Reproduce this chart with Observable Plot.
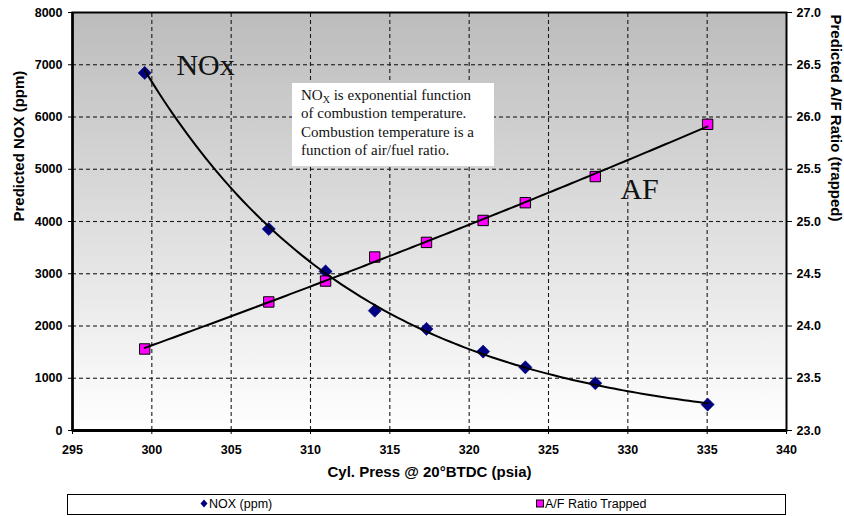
<!DOCTYPE html>
<html>
<head>
<meta charset="utf-8">
<script src="https://cdn.jsdelivr.net/npm/d3@7"></script>
<script src="https://cdn.jsdelivr.net/npm/@observablehq/plot@0.6"></script>
<style>
  body { margin: 0; background: #fff; }
  #chart { position: relative; width: 844px; height: 516px; font-family: "Liberation Sans", Arial, sans-serif; }
  #chart > svg { display: block; position: relative; z-index: 1; }
  .plot-bg {
    position: absolute; left: 72px; top: 12px; width: 714px; height: 418px; z-index: 0;
    background: linear-gradient(to bottom, #bcbcbc 0%, #ffffff 100%);
  }
  .note {
    position: absolute; left: 292px; top: 83px; width: 202px; height: 83px; box-sizing: border-box; z-index: 2;
    background: #fff; padding: 3px 0 0 9px;
    font-family: "Liberation Serif", "Times New Roman", serif; font-size: 15px; line-height: 18.4px; color: #111;
  }
  .note sub { font-size: 10px; vertical-align: -3px; line-height: 0; }
  .legend {
    position: absolute; left: 67px; top: 494px; width: 719px; height: 21px; box-sizing: border-box; z-index: 2;
    border: 1px solid #000; background: #fff; font-size: 12.5px; line-height: 15px; color: #000;
  }
  .legend .item { position: absolute; top: 2px; white-space: nowrap; }
  #chart .legend svg { display: inline-block; vertical-align: 0px; margin-right: 1px; }
</style>
</head>
<body>
<div id="chart"><div class="plot-bg"></div></div>
<script>
// Cylinder pressure at 20° BTDC (psia) and predicted values at each point
const pressure = [299.55, 307.37, 310.95, 314.05, 317.31, 320.88, 323.54, 327.95, 335.03];
const noxPpm   = [6844, 3856, 3045, 2294, 1944, 1510, 1210, 904, 497];
const afRatio  = [23.78, 24.23, 24.43, 24.66, 24.80, 25.01, 25.18, 25.43, 25.93];

// Axis ticks
const xTicks   = [295, 300, 305, 310, 315, 320, 325, 330, 335, 340];
const noxTicks = [0, 1000, 2000, 3000, 4000, 5000, 6000, 7000, 8000];
const afTicks  = [23.0, 23.5, 24.0, 24.5, 25.0, 25.5, 26.0, 26.5, 27.0];

// Secondary (A/F) axis is mapped onto the NOx scale: 23.0..27.0 -> 0..8000
const afMin = 23.0, afToNox = 2000;
const afY = v => (v - afMin) * afToNox;

const nox = pressure.map((p, i) => ({p, v: noxPpm[i]}));
const af  = pressure.map((p, i) => ({p, v: afY(afRatio[i])}));

// Exponential trend for NOx: ln(y) = a + b x
function expFit(xs, ys) {
  const ly = ys.map(Math.log);
  const mx = d3.mean(xs), my = d3.mean(ly);
  const b = d3.sum(xs, (x, i) => (x - mx) * (ly[i] - my)) / d3.sum(xs, x => (x - mx) ** 2);
  const a = my - b * mx;
  return x => Math.exp(a + b * x);
}
// Second-order polynomial trend for A/F
function polyFit2(xs, ys) {
  const x0 = d3.mean(xs);
  const u = xs.map(x => x - x0);
  const S = k => d3.sum(u, v => v ** k);
  const T = k => d3.sum(u, (v, i) => v ** k * ys[i]);
  const n = u.length;
  const M = [[n, S(1), S(2)], [S(1), S(2), S(3)], [S(2), S(3), S(4)]];
  const r = [T(0), T(1), T(2)];
  const det = m => m[0][0]*(m[1][1]*m[2][2]-m[1][2]*m[2][1]) - m[0][1]*(m[1][0]*m[2][2]-m[1][2]*m[2][0]) + m[0][2]*(m[1][0]*m[2][1]-m[1][1]*m[2][0]);
  const D = det(M);
  const c = [0, 1, 2].map(j => det(M.map((row, i) => row.map((v, k) => k === j ? r[i] : v))) / D);
  return x => c[0] + c[1] * (x - x0) + c[2] * (x - x0) ** 2;
}

const noxTrend = expFit(pressure, noxPpm);
const afTrend = polyFit2(pressure, afRatio);
const span = d3.range(0, 121).map(k => pressure[0] + (pressure[pressure.length - 1] - pressure[0]) * k / 120);
const noxCurve = span.map(p => ({p, v: noxTrend(p)}));
const afCurve = span.map(p => ({p, v: afY(afTrend(p))}));

// Dashed grid drawn as short rule segments (4px dash, 3px gap) along each inner tick
const frameW = 714, frameH = 418;
const xDom = [295, 340], yDom = [0, 8000];
const dashX = 4 * (xDom[1] - xDom[0]) / frameW, gapX = 3 * (xDom[1] - xDom[0]) / frameW;
const dashY = 4 * (yDom[1] - yDom[0]) / frameH, gapY = 3 * (yDom[1] - yDom[0]) / frameH;
const vDashes = xTicks.slice(1, -1).flatMap(x =>
  d3.range(yDom[0], yDom[1], dashY + gapY).map(y => ({x, y1: y, y2: Math.min(y + dashY, yDom[1])})));
const hDashes = noxTicks.slice(1, -1).flatMap(y =>
  d3.range(xDom[0], xDom[1], dashX + gapX).map(x => ({y, x1: x, x2: Math.min(x + dashX, xDom[1])})));

// Marker shapes
const diamond = { draw(ctx, size) { const r = Math.sqrt(size / Math.PI); ctx.moveTo(0, -r); ctx.lineTo(r, 0); ctx.lineTo(0, r); ctx.lineTo(-r, 0); ctx.closePath(); } };
const square  = { draw(ctx, size) { const r = Math.sqrt(size / Math.PI); ctx.rect(-r, -r, 2 * r, 2 * r); } };

const tickFont = {fontSize: 12.5, fontWeight: "bold"};
const serif = "'Liberation Serif', 'Times New Roman', serif";

const chart = Plot.plot({
  width: 844,
  height: 490,
  marginLeft: 72,
  marginRight: 58,
  marginTop: 12,
  marginBottom: 60,
  x: {domain: xDom},
  y: {domain: yDom},
  style: {fontFamily: "'Liberation Sans', Arial, sans-serif", color: "#000", background: "transparent"},
  marks: [
    Plot.ruleX(vDashes, {x: "x", y1: "y1", y2: "y2", stroke: "#1a1a1a", strokeWidth: 1.1}),
    Plot.ruleY(hDashes, {y: "y", x1: "x1", x2: "x2", stroke: "#1a1a1a", strokeWidth: 1.1}),
    Plot.frame({stroke: "#000", strokeWidth: 2}),
    Plot.ruleX([295], {stroke: "#000", strokeWidth: 2.5}),
    Plot.ruleY([0], {stroke: "#000", strokeWidth: 3}),
    Plot.axisX(xTicks, {tickSize: 4, tickPadding: 11, label: null, tickFormat: d => String(d), ...tickFont}),
    Plot.axisY(noxTicks, {anchor: "left", tickSize: 4, tickPadding: 6, label: null, tickFormat: d => String(d), ...tickFont}),
    Plot.axisY(afTicks.map(afY), {anchor: "right", tickSize: 5, tickPadding: 5, label: null,
      tickFormat: d => (afMin + d / afToNox).toFixed(1), ...tickFont}),
    Plot.text(["Cyl. Press @ 20°BTDC (psia)"], {text: d => d, frameAnchor: "bottom", dy: 46, fontSize: 15, fontWeight: "bold"}),
    Plot.text(["Predicted NOX (ppm)"], {text: d => d, frameAnchor: "left", dx: -53, rotate: -90, fontSize: 15, fontWeight: "bold"}),
    Plot.text(["Predicted A/F Ratio (trapped)"], {text: d => d, frameAnchor: "right", dx: 49, rotate: 90, fontSize: 15, fontWeight: "bold"}),
    Plot.dot(nox, {x: "p", y: "v", symbol: diamond, r: 6.6, fill: "#000080", stroke: "#000080", strokeWidth: 0.5}),
    Plot.dot(af, {x: "p", y: "v", symbol: square, r: 5.2, fill: "#ff00ff", stroke: "#000", strokeWidth: 1}),
    Plot.line(noxCurve, {x: "p", y: "v", stroke: "#000", strokeWidth: 2}),
    Plot.line(afCurve, {x: "p", y: "v", stroke: "#000", strokeWidth: 2}),
    Plot.text(["NOx"], {text: d => d, x: 301.55, y: 6990, textAnchor: "start", fontSize: 30, fontFamily: serif, fill: "#111"}),
    Plot.text(["AF"], {text: d => d, x: 329.53, y: 4624, textAnchor: "start", fontSize: 30, fontFamily: serif, fill: "#111"})
  ]
});

const root = document.getElementById("chart");
root.appendChild(chart);

// Annotation box
const note = document.createElement("div");
note.className = "note";
note.innerHTML = "NO<sub>X</sub> is exponential function<br>of combustion temperature.<br>Combustion temperature is a<br>function of air/fuel ratio.";
root.appendChild(note);

// Legend
const legend = document.createElement("div");
legend.className = "legend";
legend.innerHTML =
  '<span class="item" style="left:132px"><svg width="8" height="9"><path d="M4,0.5L7.5,4.5L4,8.5L0.5,4.5Z" fill="#000080"/></svg>NOX (ppm)</span>' +
  '<span class="item" style="left:468px"><svg width="8" height="9"><rect x="0.5" y="1" width="7" height="7" fill="#ff00ff" stroke="#000" stroke-width="1"/></svg>A/F Ratio Trapped</span>';
root.appendChild(legend);
</script>
</body>
</html>
